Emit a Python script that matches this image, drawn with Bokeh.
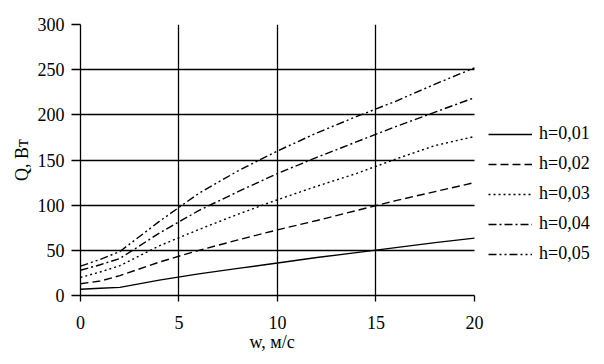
from bokeh.plotting import figure
from bokeh.models import Range1d, FixedTicker, Legend, LegendItem, Title
from bokeh.embed import file_html
from bokeh.resources import INLINE

w = [0, 1, 2, 4, 6, 8, 10, 12, 14, 16, 18, 20]
q_h001 = [7, 8, 9, 17, 24, 30, 36, 42, 47.5, 53, 58.5, 63.5]
q_h002 = [13, 16, 22, 37, 50, 61.5, 72.7, 83, 94, 105, 115, 125]
q_h003 = [20, 26, 33, 55, 73, 90, 106, 121, 135, 151, 166, 176]
q_h004 = [28, 34, 41, 69, 94, 115, 135, 153, 170, 187, 203, 219]
q_h005 = [32.5, 40, 48.7, 82, 113, 138, 160, 180, 198, 215, 234, 252]
labels = ["h=0,01", "h=0,02", "h=0,03", "h=0,04", "h=0,05"]
x_ticks = [0, 5, 10, 15, 20]
y_ticks = [0, 50, 100, 150, 200, 250, 300]

FONT = "'Liberation Serif', 'DejaVu Serif', serif"

# frame: 80..590 px wide (510 px); 20 units span 394 px -> range end 25.89
p = figure(width=596, height=356, output_backend="svg", toolbar_location=None,
           x_range=Range1d(0, 25.89), y_range=Range1d(0, 300),
           min_border_left=80, min_border_right=6, min_border_top=24, min_border_bottom=61)
p.outline_line_color = None
p.background_fill_color = "white"

series = [q_h001, q_h002, q_h003, q_h004, q_h005]
dashes = ["solid", "8 4", "2 3", "8 3 2 3", "8 3 2 3 2 3"]
renderers = []
for ys, d in zip(series, dashes):
    r = p.line(w, ys, line_color="black", line_width=1.4, line_dash=d)
    renderers.append(r)

for ax in (p.xaxis[0], p.yaxis[0]):
    ax.axis_line_color = "black"
    ax.axis_line_width = 1.3
    ax.major_tick_line_color = "black"
    ax.major_tick_line_width = 1.3
    ax.minor_tick_line_color = None
    ax.major_tick_in = 0
    ax.major_label_text_font = FONT
    ax.major_label_text_font_size = "18px"
    ax.major_label_text_color = "black"
    ax.axis_label_text_font = FONT
    ax.axis_label_text_font_size = "18px"
    ax.axis_label_text_font_style = "normal"
    ax.axis_label_text_color = "black"

p.xaxis.bounds = (0, 20)
p.xaxis.ticker = FixedTicker(ticks=x_ticks)
p.yaxis.ticker = FixedTicker(ticks=y_ticks)
p.xaxis.major_tick_out = 6
p.yaxis.major_tick_out = 9
p.yaxis.axis_label = "Q, Вт"
p.xaxis.major_label_standoff = 14
p.yaxis.major_label_standoff = 7
p.yaxis.axis_label_standoff = 3

# x axis label, centred under the 0..20 span of the axis
xlabel = Title(text="w, м/с", align="left", offset=169, vertical_align="top", standoff=0,
               text_font=FONT, text_font_size="18px", text_font_style="normal",
               text_color="black")
p.add_layout(xlabel, "below")

p.xgrid.ticker = FixedTicker(ticks=[5, 10, 15])
p.ygrid.ticker = FixedTicker(ticks=[50, 100, 150, 200, 250])
p.ygrid.cross_bounds = (0, 20)
for g in (p.xgrid[0], p.ygrid[0]):
    g.grid_line_color = "black"
    g.grid_line_width = 1.3

legend = Legend(items=[LegendItem(label=l, renderers=[r]) for l, r in zip(labels, renderers)],
                location=(408, 31), padding=0, margin=0, spacing=9,
                glyph_width=44, glyph_height=20, label_height=20,
                label_standoff=7, border_line_color=None, background_fill_alpha=0,
                label_text_font=FONT, label_text_font_size="18px", label_text_color="black")
p.add_layout(legend)

open("out.html", "w").write(file_html(p, INLINE))
